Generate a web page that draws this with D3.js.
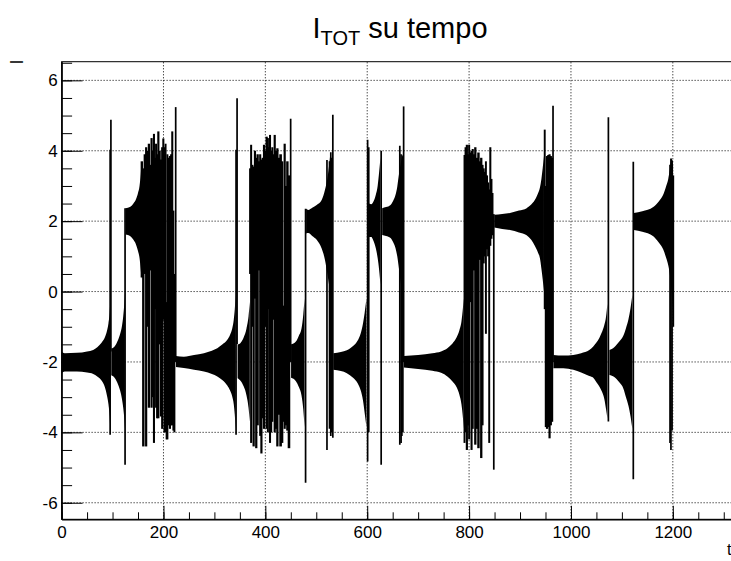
<!DOCTYPE html>
<html lang="en">
    <head>
        <meta charset="utf-8">
        <title>I TOT su tempo</title>
        <script src="https://d3js.org/d3.v7.min.js"></script>
        <style type="text/css">
            body { margin: 0; background: white; }
            svg { display: block; }
            text { font-family: "Liberation Sans", Arial, Helvetica, sans-serif; }
            .axis text { font-size: 17px; fill: black; }
            .axis path, .axis line { stroke: black; }
            .grid line { stroke: black; stroke-width: 1; stroke-dasharray: 1,2; }
        </style>
    </head>
    <body>
        <div id="chart"></div>
        <script type="text/javascript">

        //CONSTANTS
            const w = 731;
            const h = 561;

        //TICKS
            const xMajor = [0, 200, 400, 600, 800, 1000, 1200];
            const xMinor = d3.range(0, 1301, 50);
            const yMajor = [-6, -4, -2, 0, 2, 4, 6];
            const yMinor = d3.range(-6, 6.6, 0.5);

        //DATA - quiet stretches: [time, upper envelope, lower envelope]
            const band1 = [[0,-1.7,-2.32],[6,-1.75,-2.27],[30,-1.74,-2.27],[50,-1.7,-2.3],[62,-1.66,-2.34],[70,-1.58,-2.41],[78,-1.46,-2.52],[85,-1.3,-2.72],[89,-1.12,-2.95],[92,-0.9,-3.2],[94.3,-0.6,-3.55],[95.5,-0.3,-3.9]];
            const band2 = [[97.5,-1.62,-2.38],[104,-1.56,-2.45],[111,-1.37,-2.65],[115,-1.2,-2.82],[118.5,-0.98,-3.05],[121,-0.7,-3.3],[123,-0.35,-3.6],[124.3,0,-3.9]];
            const band3 = [[125.5,2.37,1.62],[135,2.41,1.57],[141,2.5,1.47],[146,2.62,1.34],[150,2.8,1.15],[153,3.0,0.95],[155.5,3.35,0.6],[157,3.65,0.35]];
            const band4 = [[224.5,-1.83,-2.14],[240,-1.85,-2.17],[260,-1.8,-2.22],[279.5,-1.75,-2.27],[295,-1.68,-2.34],[305.7,-1.61,-2.41],[316,-1.5,-2.52],[325.3,-1.37,-2.67],[331,-1.22,-2.82],[335.1,-1.04,-2.99],[338,-0.8,-3.2],[340,-0.5,-3.5],[341.8,-0.1,-3.9]];
            const band5 = [[345.5,-1.51,-2.46],[352,-1.45,-2.55],[357.6,-1.3,-2.7],[363,-1.05,-2.95],[367,-0.7,-3.3],[369.5,-0.3,-3.7]];
            const band6 = [[450.5,-1.5,-2.45],[460,-1.42,-2.55],[466,-1.25,-2.72],[471,-1.05,-2.95],[474.5,-0.65,-3.35],[477,-0.2,-3.85]];
            const band7 = [[480,2.35,1.65],[484.3,2.32,1.66],[492,2.38,1.58],[500.8,2.46,1.47],[510.6,2.6,1.22],[517.1,2.89,0.9],[521.6,3.2,0.52],[524.5,3.5,0.25],[527,3.84,0]];
            const band8 = [[533.5,-1.75,-2.22],[548.3,-1.72,-2.26],[560,-1.67,-2.32],[572.2,-1.55,-2.45],[581,-1.4,-2.6],[587,-1.2,-2.8],[591.8,-0.9,-3.1],[595,-0.6,-3.45],[598.5,-0.2,-3.85]];
            const band9 = [[603.5,2.5,1.55],[608,2.48,1.55],[612,2.55,1.45],[616.9,2.75,1.23],[620.5,3.0,0.95],[623.5,3.41,0.6],[626,3.8,0.2]];
            const band10 = [[629.4,2.37,1.61],[637,2.4,1.58],[645.8,2.46,1.52],[651,2.58,1.4],[655.6,2.75,1.23],[659,2.98,1.0],[662.2,3.32,0.66],[665.5,3.6,0.3],[668.7,3.85,-0.1],[670.5,3.9,-0.5]];
            const band11 = [[672,-1.83,-2.16],[700,-1.8,-2.2],[727.9,-1.75,-2.25],[745,-1.7,-2.31],[758,-1.6,-2.42],[767,-1.48,-2.55],[775.6,-1.3,-2.72],[781,-1.1,-2.93],[785,-0.85,-3.2],[788,-0.45,-3.6],[789.5,-0.2,-3.9]];
            const band12 = [[849.5,2.18,1.82],[865,2.2,1.78],[880.3,2.23,1.75],[898,2.3,1.68],[913,2.37,1.6],[922,2.47,1.47],[929,2.6,1.3],[935,2.78,1.12],[939,2.95,0.95],[942,3.2,0.65],[944.5,3.5,0.35],[947,3.85,0]];
            const band13 = [[965.5,-1.8,-2.18],[985,-1.82,-2.18],[1004.6,-1.8,-2.22],[1020,-1.75,-2.3],[1036,-1.66,-2.4],[1043.8,-1.56,-2.45],[1050,-1.45,-2.58],[1055.7,-1.32,-2.7],[1060,-1.18,-2.82],[1065.5,-0.95,-3.05],[1069,-0.7,-3.35],[1071.5,-0.35,-3.6]];
            const band14 = [[1075.5,-1.66,-2.37],[1085,-1.58,-2.43],[1094.9,-1.42,-2.58],[1103,-1.25,-2.76],[1108,-1.04,-3.0],[1113,-0.78,-3.25],[1117,-0.47,-3.55],[1120.5,-0.1,-3.9]];
            const band15 = [[1123.5,2.23,1.75],[1140,2.28,1.7],[1161.6,2.4,1.57],[1172,2.55,1.4],[1181,2.75,1.2],[1187,3.0,0.95],[1191,3.2,0.75],[1194,3.45,0.5],[1197.5,3.78,0],[1200.5,3.6,-0.6]];

        //DATA - chaotic stretches: [time, top, bottom]
            const chaos1 = [[157.5,3.7,0.4],[160.4,3.5,-4.4],[163.5,3.9,0.5],[166,4.1,-4.4],[168.5,4.0,-1.0],[171.6,4.2,-3.3],[174,3.6,0.6],[176.8,4.36,-3.3],[179,4.0,-3.0],[181.4,4.48,-4.3],[183.5,3.8,-0.5],[185.3,4.2,-3.3],[187.5,3.9,-3.6],[189.9,4.55,-3.6],[192.5,4.0,-1.5],[195.1,3.75,-3.55],[197.5,4.1,-3.9],[199.7,4.35,-0.8],[202,4.1,-4.0],[204.3,4.2,-4.0],[206,-0.3,-4.2],[207.5,3.9,-4.2],[210,3.8,-3.8],[212.8,3.85,-3.9],[215,3.9,-3.8],[217.3,4.55,-3.8],[219.5,2.3,-3.95],[221.5,0.5,-4.0]];
            const chaos2 = [[370,3.5,0.5],[372,4.17,-4.3],[374.4,3.6,-1.0],[377,3.55,-4.4],[379.7,4.0,-0.2],[382,3.8,-4.45],[385,3.9,-3.8],[387.5,3.7,0.6],[390,3.9,-4.1],[392.1,3.75,-4.6],[395,3.8,-3.6],[397.3,4.17,-3.9],[400,4.0,-1.0],[402.6,4.4,-3.9],[405.2,4.36,-4.0],[407,4.1,-0.5],[409.1,4.45,-4.3],[411.5,4.0,-4.0],[413.7,4.1,-3.7],[416,3.9,-0.8],[418.3,4.45,-4.0],[421,4.0,-3.9],[423.5,4.07,-4.4],[426.5,3.8,-3.5],[430,3.9,-4.4],[433.3,3.7,-4.3],[435.5,-0.4,-3.7],[437.9,4.2,-3.9],[440.5,3.0,-3.8],[443.1,3.7,-3.95],[446.4,3.3,-4.45]];
            const chaos3 = [[791,3.88,-4.3],[793,4.1,-4.0],[795.8,4.17,-4.5],[798,3.9,-3.8],[800,4.17,-4.2],[802.4,3.95,-0.3],[805,4.0,-4.5],[807,4.05,-3.9],[809.5,3.9,0.6],[812.2,4.1,-4.35],[815,3.8,-3.9],[818.8,3.95,-4.45],[821,3.7,0.9],[824,3.8,-4.73],[826.5,3.6,-3.8],[828.6,3.5,0.8],[831,3.4,1.0],[833,3.7,-1.2],[835.1,3.3,1.2],[837.5,3.1,1.0],[839.5,2.9,-4.3],[841.6,4.1,1.3],[844,3.2,1.5],[846,2.8,1.6]];
            const chaos4 = [[948.5,4.6,-0.5],[950.5,3.0,-3.85],[953,3.85,-3.9],[955.5,3.88,-3.85],[958,3.9,-4.17],[960.5,3.85,-3.8],[963,3.8,-3.7]];

        //DATA - single switching spikes: [time, top, bottom]
            const spikes = [[95.3,4.03,-4.07],[96.8,4.88,-1.7],[124.6,2.37,-4.92],[224,5.24,-2.0],
                            [342.5,4.03,-4.07],[344.5,5.49,-1.5],[449.7,4.91,-2.0],[479,2.35,-5.43],
                            [521,3.74,-4.5],[526,3.7,-3.9],[528.5,3.96,-4.1],[530.5,3.8,-4.0],[532.5,5.02,-4.15],
                            [600.8,4.31,-4.83],[603,4.1,-4.0],[627.4,4.0,-4.92],
                            [664,4.14,-4.35],[666.5,3.9,-4.3],[668,3.7,-4.1],[670,3.8,-4.0],[671.5,5.26,-2.0],
                            [848.5,2.2,-5.06],[964.8,5.28,-2.0],[1073.5,4.95,-3.69],[1122.4,3.69,-5.33],
                            [1194.5,3.6,-4.3],[1196.3,3.78,-4.5],[1198.5,3.72,-3.95],[1201,3.3,-1.0]];

            const bands = [band1, band2, band3, band4, band5, band6, band7, band8, band9, band10, band11, band12, band13, band14, band15];
            const chaos = [chaos1, chaos2, chaos3, chaos4];

        //SCALES
            const xScale = d3.scaleLinear()
                            .domain([0, 1315])
                            .range([61.6, 731.4]);

            const yScale = d3.scaleLinear()
                            .domain([-6.47, 6.53])
                            .range([519.3, 61.7]);

            const svg = d3.select("#chart")
                    .append("svg")
                    .attr("width", w)
                    .attr("height", h);

            svg.append("rect")
                .attr("width", w)
                .attr("height", h)
                .attr("fill", "white");

        //GRID
            const grid = svg.append("g").attr("class", "grid");
            grid.selectAll("line.gx")
                .data(xMajor.filter(d => d > 0))
                .enter()
                .append("line")
                .attr("x1", d => xScale(d))
                .attr("x2", d => xScale(d))
                .attr("y1", yScale.range()[0])
                .attr("y2", yScale.range()[1]);
            grid.selectAll("line.gy")
                .data(yMajor)
                .enter()
                .append("line")
                .attr("x1", xScale.range()[0])
                .attr("x2", xScale.range()[1])
                .attr("y1", d => yScale(d))
                .attr("y2", d => yScale(d));

        //SIGNAL - quiet bands
            const area = d3.area()
                        .x(d => xScale(d[0]))
                        .y0(d => yScale(d[2]))
                        .y1(d => yScale(d[1]))
                        .curve(d3.curveMonotoneX);

            svg.selectAll("path.band")
                .data(bands)
                .enter()
                .append("path")
                .attr("class", "band")
                .attr("d", area)
                .attr("fill", "black");

        //SIGNAL - chaotic bursts, each bar reaches a bit past the midpoint to its neighbours
            const pad = 0.45;
            chaos.forEach(set => {
                const left = (d, i) => i > 0 ? (set[i - 1][0] + d[0]) / 2 : d[0] - (set[1][0] - d[0]) / 2;
                const right = (d, i) => i < set.length - 1 ? (d[0] + set[i + 1][0]) / 2 : d[0] + (d[0] - set[i - 1][0]) / 2;
                svg.append("g")
                    .selectAll("rect")
                    .data(set)
                    .enter()
                    .append("rect")
                    .attr("x", (d, i) => xScale(left(d, i)) - pad)
                    .attr("width", (d, i) => xScale(right(d, i)) - xScale(left(d, i)) + 2 * pad)
                    .attr("y", d => yScale(d[1]))
                    .attr("height", d => yScale(d[2]) - yScale(d[1]))
                    .attr("fill", "black");
            });

        //SIGNAL - spikes
            svg.selectAll("line.spike")
                .data(spikes)
                .enter()
                .append("line")
                .attr("class", "spike")
                .attr("x1", d => xScale(d[0]))
                .attr("x2", d => xScale(d[0]))
                .attr("y1", d => yScale(d[1]))
                .attr("y2", d => yScale(d[2]))
                .attr("stroke", "black")
                .attr("stroke-width", 1.7);

        //AXES
            const bottomMinor = d3.axisBottom(xScale).tickValues(xMinor).tickSize(-7).tickSizeOuter(0).tickFormat("");
            const bottomMajor = d3.axisBottom(xScale).tickValues(xMajor).tickSize(-13.5).tickSizeOuter(0).tickPadding(7).tickFormat(d => d);
            const leftMinor = d3.axisLeft(yScale).tickValues(yMinor).tickSize(-10.5).tickSizeOuter(0).tickFormat("");
            const leftMajor = d3.axisLeft(yScale).tickValues(yMajor).tickSize(-21).tickSizeOuter(0).tickPadding(4).tickFormat(d => d);

            svg.append("g").attr("class", "axis").attr("transform", "translate(0," + yScale.range()[0] + ")").call(bottomMinor);
            svg.append("g").attr("class", "axis").attr("transform", "translate(0," + yScale.range()[0] + ")").call(bottomMajor);
            svg.append("g").attr("class", "axis").attr("transform", "translate(" + xScale.range()[0] + ",0)").call(leftMinor);
            svg.append("g").attr("class", "axis").attr("transform", "translate(" + xScale.range()[0] + ",0)").call(leftMajor);

        //FRAME
            svg.append("rect")
                .attr("x", xScale.range()[0])
                .attr("y", yScale.range()[1])
                .attr("width", 740 - xScale.range()[0])
                .attr("height", yScale.range()[0] - yScale.range()[1])
                .attr("fill", "none")
                .attr("stroke", "black");

        //TITLE
            const title = svg.append("text")
                .attr("x", 400)
                .attr("y", 38)
                .attr("text-anchor", "middle")
                .attr("font-size", "29px");
            title.append("tspan").text("I");
            title.append("tspan").attr("font-size", "20px").attr("dy", 7).text("TOT");
            title.append("tspan").attr("dy", -7).text(" su tempo");

        //AXIS TITLES (cut by the canvas edge, as in the source)
            svg.append("text")
                .attr("transform", "translate(23,64.5) rotate(-90)")
                .attr("font-size", "18px")
                .text("I");
            svg.append("text")
                .attr("x", 727)
                .attr("y", 555)
                .attr("font-size", "16px")
                .text("t [s]");
        </script>
    </body>
</html>
